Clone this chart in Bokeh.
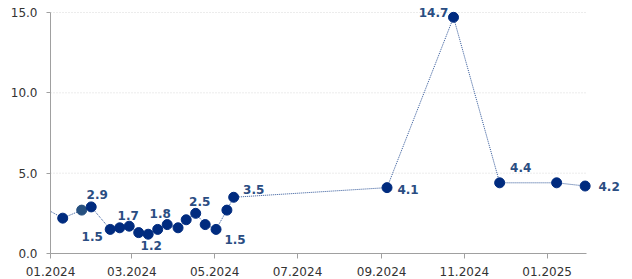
import datetime as dt
from bokeh.plotting import figure
from bokeh.models import (ColumnDataSource, Range1d, MonthsTicker, DatetimeTickFormatter,
                          FixedTicker, NumeralTickFormatter, Label)
from bokeh.embed import file_html
from bokeh.resources import INLINE

dates = ["2023-12-22", "2024-01-10", "2024-01-24", "2024-01-31", "2024-02-14", "2024-02-21",
         "2024-02-28", "2024-03-06", "2024-03-13", "2024-03-20", "2024-03-27", "2024-04-04",
         "2024-04-10", "2024-04-17", "2024-04-24", "2024-05-02", "2024-05-10", "2024-05-15",
         "2024-09-05", "2024-10-24", "2024-11-27", "2025-01-08", "2025-01-29"]
values = [3.1, 2.2, 2.7, 2.9, 1.5, 1.6, 1.7, 1.3, 1.2, 1.5, 1.8, 1.6, 2.1, 2.5, 1.8, 1.5,
          2.7, 3.5, 4.1, 14.7, 4.4, 4.4, 4.2]
labelled = [3, 4, 6, 8, 10, 13, 15, 17, 18, 19, 20, 22]
y_ticks = [0, 5, 10, 15]
x_start, x_end = dt.datetime(2024, 1, 1), dt.datetime(2025, 1, 30)
y_start, y_end = 0, 15

# label offsets in screen pixels (dx right, dy up)
offsets = {3: (6, 12), 4: (-18, -7), 6: (-1, 11), 8: (3, -11), 10: (-7, 11), 13: (4, 12),
           15: (19, -10), 17: (20, 8), 18: (21, -2), 19: (-20, 5), 20: (21, 15), 22: (24, 0)}

# layout: axes occupy 536 x 241 px; frame extended so labels outside the axes are not clipped
AX_W, AX_H, FR_W, FR_H = 536, 241, 574, 253
x = [dt.datetime.strptime(d, "%Y-%m-%d") for d in dates]
colors = ["#002b7f"] * len(x)
colors[2] = "#26507f"
src = ColumnDataSource(dict(x=x, y=values, c=colors))

x_view_end = x_start + (x_end - x_start) * (FR_W / AX_W)
y_view_end = y_start + (y_end - y_start) * (FR_H / AX_H)

p = figure(width=624, height=279, x_axis_type="datetime", output_backend="svg",
           toolbar_location=None,
           x_range=Range1d(x_start, x_view_end), y_range=Range1d(y_start, y_view_end),
           min_border_left=50, min_border_right=0, min_border_top=0, min_border_bottom=26)
p.outline_line_color = None
p.background_fill_color = "white"
p.xgrid.grid_line_color = None
p.ygrid.grid_line_color = None

# horizontal dotted gridlines limited to the axes area
gy = [t for t in y_ticks if t > y_start]
p.segment(x0=[x_start] * len(gy), x1=[x_end] * len(gy), y0=gy, y1=gy,
          line_color="#d8d8d8", line_width=1, line_dash="1 2")

p.line("x", "y", source=src, line_color="#2f5597", line_width=1, line_dash="1 1")
p.scatter("x", "y", source=src, size=10, fill_color="c", line_color="c")

for i in labelled:
    dx, dy = offsets[i]
    p.add_layout(Label(x=x[i], y=values[i], text=f"{values[i]:.1f}", x_offset=dx, y_offset=dy,
                       text_align="center", text_baseline="middle", text_font="DejaVu Sans",
                       text_font_style="bold", text_font_size="12px", text_color="#2a4d82"))

p.xaxis.ticker = MonthsTicker(months=[0, 2, 4, 6, 8, 10])
p.xaxis.formatter = DatetimeTickFormatter(months="%m.%Y", days="%m.%Y", years="%m.%Y")
p.xaxis.bounds = (x_start, x_end)
p.yaxis.ticker = FixedTicker(ticks=y_ticks)
p.yaxis.formatter = NumeralTickFormatter(format="0.0")
p.yaxis.bounds = (y_start, y_end)
for ax in (p.xaxis, p.yaxis):
    ax.axis_line_color = "#a0a0a0"
    ax.major_tick_line_color = "#a0a0a0"
    ax.major_tick_in = 0
    ax.major_tick_out = 5
    ax.minor_tick_line_color = None
    ax.major_label_text_font = "DejaVu Sans"
    ax.major_label_text_font_size = "12px"
    ax.major_label_text_color = "#333333"
p.yaxis.major_tick_out = 4
p.yaxis.major_label_standoff = 9
p.xaxis.major_label_standoff = 8

open("out.html", "w").write(file_html(p, INLINE))
